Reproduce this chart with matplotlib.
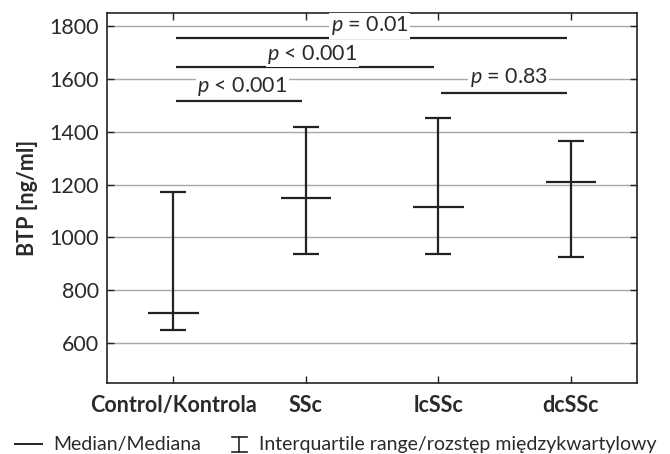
import matplotlib
matplotlib.use("Agg")
import matplotlib.pyplot as plt
from matplotlib.lines import Line2D
import numpy as np

plt.rcParams['font.family'] = ['Lato', 'DejaVu Sans']
plt.rcParams['mathtext.fontset'] = 'custom'
plt.rcParams['mathtext.rm'] = 'Lato'
plt.rcParams['mathtext.it'] = 'Lato:italic:normal'

# ---- data ----
groups = ["Control/Kontrola", "SSc", "lcSSc", "dcSSc"]
median = [714, 1150, 1116, 1211]
q1 = [651, 937, 937, 927]
q3 = [1170, 1416, 1450, 1366]

# comparisons: (group i, group j, bar level, label)
comp_i = [0, 0, 0, 2]
comp_j = [1, 2, 3, 3]
comp_level = [1517, 1645, 1755, 1545]
comp_label = ["< 0.001", "< 0.001", "= 0.01", "= 0.83"]
label_x = [1.52, 2.05, 2.48, 3.53]
label_y = [1551, 1671, 1780, 1583]

yticks = [600, 800, 1000, 1200, 1400, 1600, 1800]

fig = plt.figure(figsize=(6.7, 4.54), dpi=100)
ax = fig.add_axes([0.16, 0.157, 0.791, 0.815])

x = np.arange(1, len(groups) + 1)
med = np.array(median)
lo = med - np.array(q1)
hi = np.array(q3) - med

txtc = '#2a2a2a'
ax.set_ylim(450, 1850)
ax.set_xlim(0.5, 4.5)
ax.set_yticks(yticks)
ax.set_xticks(x)
ax.set_xticklabels(groups, fontsize=15.5, fontweight='bold', color=txtc)
ax.yaxis.grid(True, color='#a8a8a8', lw=1.0)
ax.set_axisbelow(True)
ax.tick_params(axis='both', direction='in', top=True, right=True, length=5, width=1.0, color='#222222')
ax.tick_params(axis='y', labelsize=15.5, pad=6, labelcolor=txtc)
ax.tick_params(axis='x', pad=9)
for sp in ax.spines.values():
    sp.set_linewidth(1.2)
    sp.set_color('#222222')

ax.errorbar(x, med, yerr=[lo, hi], fmt='none', ecolor='#222222', elinewidth=1.6,
            capsize=9.5, capthick=1.6, zorder=3)
ax.hlines(med, x - 0.19, x + 0.19, color='#222222', lw=1.6, zorder=3)

for i, j, lev, lab, lx, ly in zip(comp_i, comp_j, comp_level, comp_label, label_x, label_y):
    ax.hlines(lev, x[i] + 0.02, x[j] - 0.03, color='#222222', lw=1.6, zorder=3)
    ax.text(lx, ly, r'$p$ ' + lab, ha='center', va='baseline', fontsize=15.5,
            color=txtc, zorder=4,
            bbox=dict(facecolor='white', edgecolor='none', pad=1.0))

ax.set_ylabel("BTP [ng/ml]", fontsize=15.5, fontweight='bold', labelpad=8, color=txtc)

# legend at bottom
fig.add_artist(Line2D([0.022, 0.063], [0.021, 0.021], color='#222222', lw=1.4))
fig.text(0.079, 0.021, "Median/Mediana", fontsize=14, va='center', ha='left', color=txtc)
xc = 0.357
fig.add_artist(Line2D([xc, xc], [0.004, 0.038], color='#222222', lw=1.2))
fig.add_artist(Line2D([xc - 0.011, xc + 0.011], [0.004, 0.004], color='#222222', lw=1.2))
fig.add_artist(Line2D([xc - 0.011, xc + 0.011], [0.038, 0.038], color='#222222', lw=1.2))
fig.text(0.386, 0.021, "Interquartile range/rozstęp międzykwartylowy", fontsize=14,
         va='center', ha='left', color=txtc)

fig.savefig("out.png", dpi=100)
